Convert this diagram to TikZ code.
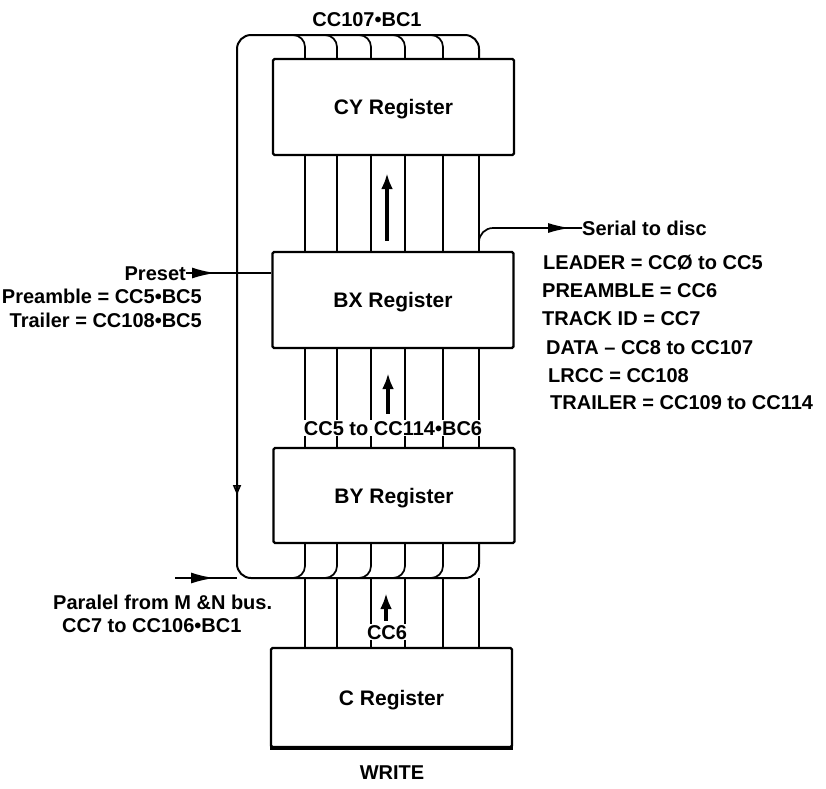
\documentclass[tikz,border=0pt]{standalone}
\usepackage{fontspec}
\setmainfont{Liberation Sans}
\usepackage{tikz}
\usetikzlibrary{arrows.meta,positioning,calc}

\newcommand{\dgmfont}{\fontsize{20}{22}\selectfont\bfseries}
\newcommand{\regfont}{\fontsize{21}{24}\selectfont\bfseries}

\tikzset{
  reg/.style={draw, line width=2.4pt, rounded corners=1.5pt, minimum width=241pt, minimum height=96pt, font=\regfont, text height=15pt, text depth=0pt},
  wire/.style={line width=1.7pt},
  lbl/.style={font=\dgmfont, inner sep=0pt, text height=14pt, text depth=0pt},
  flow/.style={line width=3.4pt, -{Latex[length=16pt,width=12pt]}},
  feed/.style={line width=2.6pt, -{Latex[length=24pt,width=11pt]}},
}

\begin{document}
\begin{tikzpicture}[x=1pt,y=-1pt]
\useasboundingbox (0,0) rectangle (826,788);

% registers
\node[reg] (cy) at (393.5,107) {CY Register};
\node[reg] (bx) at (393,300) {BX Register};
\node[reg, minimum height=95pt] (by) at (394,495.5) {BY Register};
\node[reg, minimum height=99pt] (c) at (391.5,697.5) {C Register};
\draw[line width=4pt] (c.south west) -- (c.south east);

% wire positions and buses
\foreach \n/\x in {1/305,2/337,3/371,4/405,5/443,6/479}
  \coordinate (w\n) at (\x,0);
\coordinate (topbus) at (0,35);
\coordinate (botbus) at (0,578);
\coordinate (loop) at (237,0);

\foreach \n in {1,...,6}{
  \draw[wire] (cy.south -| w\n) -- (bx.north -| w\n);
  \draw[wire] (bx.south -| w\n) -- (by.north -| w\n);
  \draw[wire] (c.north -| w\n) -- (botbus -| w\n);
}
\foreach \n in {1,...,5}{
  \draw[wire, rounded corners=12pt] (cy.north -| w\n) |- ($(topbus -| w\n)+(-22,0)$);
  \draw[wire, rounded corners=12pt] (by.south -| w\n) |- ($(botbus -| w\n)+(-22,0)$);
}
% feedback loop
\draw[wire, line width=2pt, rounded corners=14pt] (cy.north -| w6) |- (loop |- topbus) -- (loop |- botbus) -| (by.south -| w6);
\coordinate (dn) at (237,495);
\draw[wire, -{Triangle[open,length=10pt,width=8pt]}] ($(dn)+(0,-20)$) -- (dn);

% parallel input
\coordinate (pin) at (175,578);
\draw[wire, line width=2.6pt] (pin) -- (loop |- botbus);
\draw[feed] (pin) -- ++(40,0);

% serial output
\node[lbl, anchor=west] (serial) at (582,228) {Serial to disc};
\draw[wire, rounded corners=14pt] (bx.north -| w6) |- (serial.west);
\draw[wire, -{Latex[length=22pt,width=10pt]}] ($(serial.west)+(-40,0)$) -- ($(serial.west)+(-12,0)$);

% preset
\node[lbl, anchor=east] (preset) at (186,273) {Preset};
\draw[wire] (preset.east) -- (bx.west |- preset.east);
\draw[feed] ($(preset.east)+(3,0)$) -- ($(preset.east)+(30,0)$);

% transfer arrows
\draw[flow] ($(bx.north)+(-6,-10)$) -- ($(cy.south)+(-6.5,17)$);
\draw[flow] ($(by.north)+(-6,-33)$) -- ($(bx.south)+(-5,24)$);
\draw[flow] ($(c.north)+(-5.5,-26)$) -- ($(by.south)+(-8,49)$);

% labels
\node[lbl, fill=white, inner sep=1pt] (cc5) at (393,428) {CC5 to CC114•BC6};
\node[lbl, fill=white, inner sep=1pt] (cc6) at (387,632) {CC6};
\node[lbl] (cc107) at (367,19) {CC107•BC1};
\node[lbl, anchor=east] (pre) at (202,296) {Preamble = CC5•BC5};
\node[lbl, anchor=east] (trl) at (202,320) {Trailer = CC108•BC5};
\node[lbl, anchor=west] (leader) at (543,262) {LEADER = CCØ to CC5};
\node[lbl, anchor=west] (pream) at (542,290) {PREAMBLE = CC6};
\node[lbl, anchor=west] (track) at (542,318) {TRACK ID = CC7};
\node[lbl, anchor=west] (data) at (546,347) {DATA – CC8 to CC107};
\node[lbl, anchor=west] (lrcc) at (548,375) {LRCC = CC108};
\node[lbl, anchor=west] (trail) at (550,402) {TRAILER = CC109 to CC114};
\node[lbl, anchor=west] (par) at (53,602) {Paralel from M \&N bus.};
\node[lbl, anchor=west] (cc7) at (62,625) {CC7 to CC106•BC1};
\node[lbl] (write) at (392,772) {WRITE};
\end{tikzpicture}
\end{document}
